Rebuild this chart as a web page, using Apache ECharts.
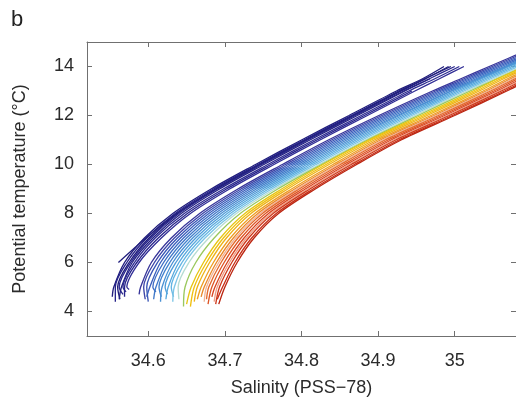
<!DOCTYPE html>
<html>
<head>
<meta charset="utf-8">
<script src="https://cdn.jsdelivr.net/npm/echarts@6/dist/echarts.min.js"></script>
<style>
html,body{margin:0;padding:0;background:#fff;}
#chart{width:516px;height:402px;}
</style>
</head>
<body>
<div id="chart"></div>
<script>
// Temperature levels (°C) at which each profile's salinity is read
const tempLevels = [5, 6, 7, 8, 9, 10, 11, 12, 13, 13.5, 14, 14.8];

// Salinity of each profile at tempLevels (null = profile absent there)
const profileSal = [
  [34.555,34.569,34.595,34.632,34.682,34.740,34.800,34.862,34.924,34.958,34.986,null],
  [34.557,34.572,34.598,34.635,34.685,34.743,34.803,34.865,34.929,34.962,null,null],
  [34.560,34.575,34.601,34.638,34.688,34.746,34.806,34.868,34.930,34.961,34.995,null],
  [34.562,34.577,34.603,34.640,34.690,34.748,34.808,34.870,34.933,34.967,35.000,null],
  [34.565,34.579,34.606,34.643,34.693,34.751,34.811,34.873,34.935,34.968,null,null],
  [34.567,34.582,34.609,34.647,34.698,34.756,34.816,34.878,34.940,34.974,35.006,null],
  [34.569,34.585,34.613,34.651,34.702,34.760,34.820,34.882,34.944,null,null,null],
  [34.572,34.588,34.617,34.655,34.706,34.764,34.824,34.886,34.948,34.980,35.012,null],
  [null,34.561,34.597,34.637,34.688,34.745,34.805,34.867,34.927,34.962,34.992,null],
  [34.590,34.604,34.630,34.667,34.717,34.775,34.835,34.901,34.971,35.008,35.045,35.105],
  [34.594,34.608,34.634,34.671,34.721,34.779,34.839,34.905,34.975,35.012,35.049,35.109],
  [34.598,34.612,34.638,34.675,34.725,34.783,34.843,34.909,34.979,35.016,35.053,35.113],
  [34.602,34.616,34.642,34.679,34.729,34.787,34.847,34.913,34.983,35.020,35.057,35.117],
  [34.606,34.620,34.646,34.683,34.733,34.791,34.851,34.917,34.987,35.024,35.061,35.121],
  [34.610,34.624,34.650,34.687,34.737,34.795,34.855,34.921,34.991,35.028,35.065,35.125],
  [34.614,34.628,34.654,34.691,34.741,34.799,34.859,34.925,34.995,35.032,35.069,35.129],
  [34.618,34.632,34.658,34.695,34.745,34.803,34.863,34.928,34.996,35.031,35.067,35.125],
  [34.622,34.636,34.662,34.699,34.749,34.807,34.867,34.932,35.000,35.035,35.071,35.129],
  [34.626,34.640,34.666,34.703,34.753,34.811,34.871,34.936,35.004,35.039,35.075,35.133],
  [34.630,34.644,34.670,34.707,34.757,34.815,34.875,34.940,35.008,35.043,35.079,35.137],
  [34.634,34.648,34.674,34.711,34.761,34.819,34.879,34.944,35.012,35.047,35.083,35.141],
  [34.639,34.653,34.679,34.715,34.765,34.823,34.883,34.948,35.016,35.051,35.087,35.145],
  [34.648,34.662,34.686,34.720,34.769,34.826,34.886,34.952,35.020,35.055,35.091,35.149],
  [34.656,34.672,34.694,34.726,34.774,34.828,34.888,34.956,35.024,35.056,35.091,35.146],
  [34.660,34.676,34.698,34.730,34.778,34.832,34.891,34.960,35.028,35.060,35.095,35.150],
  [34.664,34.680,34.702,34.734,34.782,34.836,34.895,34.964,35.032,35.064,35.099,35.154],
  [34.669,34.685,34.707,34.739,34.787,34.841,34.899,34.969,35.037,35.069,35.104,35.159],
  [34.673,34.689,34.711,34.743,34.791,34.845,34.903,34.973,35.041,35.073,35.108,35.163],
  [34.676,34.692,34.714,34.746,34.794,34.848,34.906,34.976,35.044,35.076,35.111,35.166],
  [34.679,34.695,34.717,34.749,34.797,34.851,34.909,34.979,35.047,35.079,35.114,35.169],
  [34.683,34.699,34.721,34.753,34.801,34.855,34.913,34.983,35.051,35.083,35.118,35.173],
  [34.687,34.703,34.725,34.757,34.805,34.859,34.917,34.987,35.055,35.087,35.122,35.177],
  [34.690,34.706,34.728,34.760,34.808,34.862,34.920,34.990,35.058,35.090,35.125,35.180],
  [34.693,34.709,34.731,34.763,34.811,34.865,34.923,34.993,35.061,35.093,35.128,35.183],
  [34.697,34.713,34.735,34.767,34.815,34.869,34.927,34.997,35.065,35.097,35.132,35.187],
  [34.700,34.716,34.738,34.770,34.818,34.872,34.930,35.000,35.068,35.100,35.135,35.190]
];

// Deepest point of each profile: [salinity, temperature]
const profileBottom = [
  [34.553,4.6],[34.557,4.4],[34.563,4.5],[34.567,4.7],[34.562,4.5],[34.571,4.8],[34.569,4.6],[34.575,4.9],null,
  [34.588,4.7],[34.596,4.5],[34.600,4.4],[34.598,4.6],[34.610,4.8],[34.607,4.5],[34.617,4.6],
  [34.616,4.4],[34.625,4.7],[34.623,4.5],[34.633,4.6],
  [34.632,4.4],[34.640,4.5],[34.646,4.2],
  [34.650,4.3],[34.655,4.2],[34.660,4.4],
  [34.664,4.5],[34.669,4.6],[34.673,4.4],
  [34.676,4.5],[34.678,4.3],[34.683,4.6],[34.686,4.4],
  [34.688,4.3],[34.690,4.5],[34.692,4.3]
];

const profileColors = [
  '#211e7c','#26238a','#1f1c78','#2a288e','#242282','#2e2c92','#27248a','#322f96','#23207e',
  '#38369a','#3d45a8','#3a56b6','#3b60bd','#3e6ec5','#4079c9','#4483cd',
  '#4a91d4','#4f9dd9','#57a9de','#63b5e3',
  '#7cc5e6','#b6dcd2','#9ac85e',
  '#e6c616','#f0c010','#edb31a',
  '#ee9e22','#ea892a','#f0b498',
  '#e46a2c','#de5626','#d84420','#eea088',
  '#cf3a1c','#c83018','#bb2612'
];

const xTicks = [34.6, 34.7, 34.8, 34.9, 35];
const yTicks = [4, 6, 8, 10, 12, 14];

const FONT = '"Liberation Sans", Arial, Helvetica, sans-serif';
const AX = '#707070';
const TXT = '#2b2b2b';

const series = profileSal.map(function (sal, i) {
  const pts = [];
  if (profileBottom[i]) pts.push(profileBottom[i]);
  sal.forEach(function (s, k) { if (s !== null) pts.push([s, tempLevels[k]]); });
  return {
    type: 'line', data: pts, showSymbol: false, smooth: 0.3, silent: true,
    xAxisIndex: 0, yAxisIndex: 0, clip: true,
    lineStyle: { color: profileColors[i], width: 1.35 }
  };
});

const chart = echarts.init(document.getElementById('chart'), null, { renderer: 'canvas' });
chart.setOption({
  animation: false,
  backgroundColor: '#fff',
  grid: { left: 87, right: 0, top: 42, bottom: 64, containLabel: false },
  graphic: [{ type: 'text', left: 11, top: 9, style: { text: 'b', font: '22px ' + FONT, fill: '#222' } }],
  xAxis: [
    {
      type: 'value', min: 34.52, max: 35.08, position: 'bottom',
      name: 'Salinity (PSS\u221278)', nameLocation: 'middle', nameGap: 43,
      nameTextStyle: { fontSize: 18, color: TXT, fontFamily: FONT },
      axisLine: { show: true, lineStyle: { color: AX, width: 1 } },
      axisTick: { show: true, inside: true, length: 5, customValues: xTicks, lineStyle: { color: AX } },
      axisLabel: { show: true, customValues: xTicks, fontSize: 18, color: TXT, fontFamily: FONT, margin: 16,
        formatter: function (v) { return String(Math.round(v * 10) / 10); } },
      splitLine: { show: false }
    },
    {
      type: 'value', min: 34.52, max: 35.08, position: 'top',
      axisLine: { show: true, lineStyle: { color: AX, width: 1 } },
      axisTick: { show: true, inside: true, length: 5, customValues: xTicks, lineStyle: { color: AX } },
      axisLabel: { show: false, customValues: xTicks },
      splitLine: { show: false }
    }
  ],
  yAxis: [
    {
      type: 'value', min: 3, max: 15, position: 'left',
      name: 'Potential temperature (\u00b0C)', nameLocation: 'middle', nameGap: 58, nameRotate: 90,
      nameTextStyle: { fontSize: 18, color: TXT, fontFamily: FONT },
      axisLine: { show: true, lineStyle: { color: AX, width: 1 } },
      axisTick: { show: true, inside: true, length: 5, customValues: yTicks, lineStyle: { color: AX } },
      axisLabel: { show: true, customValues: yTicks, fontSize: 18, color: TXT, fontFamily: FONT, margin: 13 },
      splitLine: { show: false }
    },
    {
      type: 'value', min: 3, max: 15, position: 'right',
      axisLine: { show: true, lineStyle: { color: AX, width: 1 } },
      axisTick: { show: true, inside: true, length: 5, customValues: yTicks, lineStyle: { color: AX } },
      axisLabel: { show: false, customValues: yTicks },
      splitLine: { show: false }
    }
  ],
  series: series
});
</script>
</body>
</html>
